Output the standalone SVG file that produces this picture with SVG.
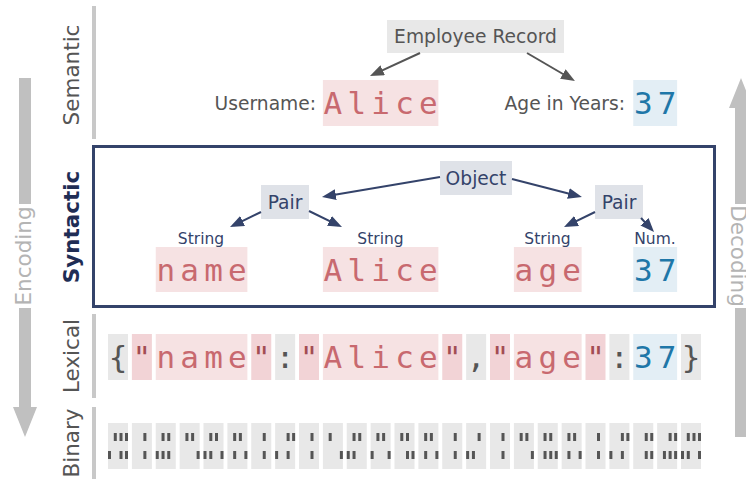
<svg xmlns="http://www.w3.org/2000/svg" width="746" height="479" viewBox="0 0 746 479">
<defs>
<style>
text{font-family:"DejaVu Sans","Liberation Sans",sans-serif}
.layer{font-size:21.5px;fill:#555;text-anchor:middle}
.layer-on{font-weight:bold;fill:#1f2d55}
.dir{font-size:21.5px;fill:#b4b4b4;text-anchor:middle}
.rail{fill:#c8c8c8}
.flow{fill:#c0c0c0}
.sem{font-size:18.67px;fill:#555}
.node{font-size:18.67px;fill:#34436a;text-anchor:middle}
.kind{font-size:15.5px;fill:#34436a;text-anchor:middle}
.tok{font-family:"DejaVu Sans Mono","Liberation Mono",monospace;font-size:31px;text-anchor:middle}
.str{fill:#c8696f}
.num{fill:#1f77a8}
.punc{fill:#555}
.quo{fill:#a34d53}
.bg-str{fill:#f6e2e3}
.bg-quo{fill:#f2d3d6}
.bg-num{fill:#e3eef5}
.bg-punc{fill:#e8e8e8}
.bg-node{fill:#dfe2e8}
.cell{fill:#e8e8e8}
.bit{fill:#555}
.edge-sem{stroke:#555;stroke-width:2;fill:none;marker-end:url(#head-sem)}
.edge-syn{stroke:#34436a;stroke-width:2;fill:none;marker-end:url(#head-syn)}
</style>
<marker id="head-sem" markerUnits="userSpaceOnUse" markerWidth="14" markerHeight="11" refX="10" refY="5.5" orient="auto"><path d="M0,0 L14,5.5 L0,11 z" fill="#555"/></marker>
<marker id="head-syn" markerUnits="userSpaceOnUse" markerWidth="14" markerHeight="11" refX="10" refY="5.5" orient="auto"><path d="M0,0 L14,5.5 L0,11 z" fill="#34436a"/></marker>
<!-- one cell per byte: high nibble on top row, low nibble below -->
<g id="byte-7B"><rect class="cell" width="20" height="46"/><path class="bit" d="M5.8 10h3v8h-3zM11.5 10h3v8h-3zM17 10h3v8h-3zM0 28h3v8h-3zM11.5 28h3v8h-3zM17 28h3v8h-3z"/></g>
<g id="byte-22"><rect class="cell" width="20" height="46"/><path class="bit" d="M11.5 10h3v8h-3zM11.5 28h3v8h-3z"/></g>
<g id="byte-6E"><rect class="cell" width="20" height="46"/><path class="bit" d="M5.8 10h3v8h-3zM11.5 10h3v8h-3zM0 28h3v8h-3zM5.8 28h3v8h-3zM11.5 28h3v8h-3z"/></g>
<g id="byte-61"><rect class="cell" width="20" height="46"/><path class="bit" d="M5.8 10h3v8h-3zM11.5 10h3v8h-3zM17 28h3v8h-3z"/></g>
<g id="byte-6D"><rect class="cell" width="20" height="46"/><path class="bit" d="M5.8 10h3v8h-3zM11.5 10h3v8h-3zM0 28h3v8h-3zM5.8 28h3v8h-3zM17 28h3v8h-3z"/></g>
<g id="byte-65"><rect class="cell" width="20" height="46"/><path class="bit" d="M5.8 10h3v8h-3zM11.5 10h3v8h-3zM5.8 28h3v8h-3zM17 28h3v8h-3z"/></g>
<g id="byte-3A"><rect class="cell" width="20" height="46"/><path class="bit" d="M11.5 10h3v8h-3zM17 10h3v8h-3zM0 28h3v8h-3zM11.5 28h3v8h-3z"/></g>
<g id="byte-41"><rect class="cell" width="20" height="46"/><path class="bit" d="M5.8 10h3v8h-3zM17 28h3v8h-3z"/></g>
<g id="byte-6C"><rect class="cell" width="20" height="46"/><path class="bit" d="M5.8 10h3v8h-3zM11.5 10h3v8h-3zM0 28h3v8h-3zM5.8 28h3v8h-3z"/></g>
<g id="byte-69"><rect class="cell" width="20" height="46"/><path class="bit" d="M5.8 10h3v8h-3zM11.5 10h3v8h-3zM0 28h3v8h-3zM17 28h3v8h-3z"/></g>
<g id="byte-63"><rect class="cell" width="20" height="46"/><path class="bit" d="M5.8 10h3v8h-3zM11.5 10h3v8h-3zM11.5 28h3v8h-3zM17 28h3v8h-3z"/></g>
<g id="byte-2C"><rect class="cell" width="20" height="46"/><path class="bit" d="M11.5 10h3v8h-3zM0 28h3v8h-3zM5.8 28h3v8h-3z"/></g>
<g id="byte-67"><rect class="cell" width="20" height="46"/><path class="bit" d="M5.8 10h3v8h-3zM11.5 10h3v8h-3zM5.8 28h3v8h-3zM11.5 28h3v8h-3zM17 28h3v8h-3z"/></g>
<g id="byte-33"><rect class="cell" width="20" height="46"/><path class="bit" d="M11.5 10h3v8h-3zM17 10h3v8h-3zM11.5 28h3v8h-3zM17 28h3v8h-3z"/></g>
<g id="byte-37"><rect class="cell" width="20" height="46"/><path class="bit" d="M11.5 10h3v8h-3zM17 10h3v8h-3zM5.8 28h3v8h-3zM11.5 28h3v8h-3zM17 28h3v8h-3z"/></g>
<g id="byte-7D"><rect class="cell" width="20" height="46"/><path class="bit" d="M5.8 10h3v8h-3zM11.5 10h3v8h-3zM17 10h3v8h-3zM0 28h3v8h-3zM5.8 28h3v8h-3zM17 28h3v8h-3z"/></g>
</defs>

<rect width="746" height="479" fill="#fff"/>

<!-- direction arrows -->
<g id="encoding">
<path class="flow" d="M19,78 H31 V407 H37 L25,437 L13,407 H19 Z"/>
<rect x="11" y="204" width="28" height="104" fill="#fff"/>
<text class="dir" transform="translate(31,256) rotate(-90)">Encoding</text>
</g>
<g id="decoding">
<path class="flow" d="M735,437 H747 V108 H753 L741,78 L729,108 H735 Z"/>
<rect x="725" y="204" width="21" height="104" fill="#fff"/>
<text class="dir" transform="translate(731,256) rotate(90)">Decoding</text>
</g>

<!-- layer names and rails -->
<g id="layers">
<rect class="rail" x="92" y="6" width="4" height="133"/>
<rect class="rail" x="92" y="314" width="4" height="84"/>
<rect class="rail" x="92" y="407" width="4" height="72"/>
<text class="layer" transform="translate(79,75) rotate(-90)">Semantic</text>
<text class="layer layer-on" transform="translate(79,227) rotate(-90)">Syntactic</text>
<text class="layer" transform="translate(79,356) rotate(-90)">Lexical</text>
<text class="layer" transform="translate(79,443) rotate(-90)">Binary</text>
</g>

<!-- semantic layer -->
<g id="record">
<rect class="bg-punc" x="387" y="20" width="177" height="33"/>
<text class="sem" x="475.5" y="43.3" text-anchor="middle">Employee Record</text>
</g>
<g id="username">
<text class="sem" x="316" y="110" text-anchor="end">Username:</text>
<rect class="bg-str" x="322.88" y="80" width="115.5" height="46"/>
<text class="tok str" x="332.88 356.75 380.63 404.5 428.38" y="113.5">Alice</text>
</g>
<g id="age">
<text class="sem" x="625" y="110" text-anchor="end">Age in Years:</text>
<rect class="bg-num" x="633.25" y="80" width="43.88" height="46"/>
<text class="tok num" x="643.25 667.13" y="113.5">37</text>
</g>

<!-- syntactic layer -->
<rect id="syntax-frame" x="93.5" y="146.5" width="621" height="160" fill="none" stroke="#34436a" stroke-width="3"/>
<g id="object">
<rect class="bg-node" x="440" y="161" width="72" height="34"/>
<text class="node" x="476" y="184.8">Object</text>
</g>
<g id="pair-name">
<rect class="bg-node" x="261" y="185" width="48" height="34"/>
<text class="node" x="285" y="208.8">Pair</text>
</g>
<g id="pair-age">
<rect class="bg-node" x="595" y="185" width="48" height="34"/>
<text class="node" x="619" y="208.8">Pair</text>
</g>
<g id="key-name">
<text class="kind" x="201" y="244">String</text>
<rect class="bg-str" x="155.75" y="247" width="91.63" height="45"/>
<text class="tok str" x="165.75 189.63 213.5 237.38" y="280.5">name</text>
</g>
<g id="value-name">
<text class="kind" x="380.5" y="244">String</text>
<rect class="bg-str" x="322.88" y="247" width="115.5" height="45"/>
<text class="tok str" x="332.88 356.75 380.63 404.5 428.38" y="280.5">Alice</text>
</g>
<g id="key-age">
<text class="kind" x="547.5" y="244">String</text>
<rect class="bg-str" x="513.88" y="247" width="67.75" height="45"/>
<text class="tok str" x="523.88 547.75 571.63" y="280.5">age</text>
</g>
<g id="value-age">
<text class="kind" x="655" y="244">Num.</text>
<rect class="bg-num" x="633.25" y="247" width="43.88" height="45"/>
<text class="tok num" x="643.25 667.13" y="280.5">37</text>
</g>

<!-- lexical layer: one slot per character -->
<g id="tokens">
<rect class="bg-punc" x="108" y="334" width="20" height="46"/>
<rect class="bg-quo" x="131.88" y="334" width="20" height="46"/>
<rect class="bg-str" x="155.75" y="334" width="91.63" height="46"/>
<rect class="bg-quo" x="251.25" y="334" width="20" height="46"/>
<rect class="bg-punc" x="275.13" y="334" width="20" height="46"/>
<rect class="bg-quo" x="299" y="334" width="20" height="46"/>
<rect class="bg-str" x="322.88" y="334" width="115.5" height="46"/>
<rect class="bg-quo" x="442.25" y="334" width="20" height="46"/>
<rect class="bg-punc" x="466.13" y="334" width="20" height="46"/>
<rect class="bg-quo" x="490" y="334" width="20" height="46"/>
<rect class="bg-str" x="513.88" y="334" width="67.75" height="46"/>
<rect class="bg-quo" x="585.5" y="334" width="20" height="46"/>
<rect class="bg-punc" x="609.38" y="334" width="20" height="46"/>
<rect class="bg-num" x="633.25" y="334" width="43.88" height="46"/>
<rect class="bg-punc" x="681" y="334" width="20" height="46"/>
<text class="tok" y="367.5"><tspan class="punc" x="118">{</tspan><tspan class="quo" x="141.88">"</tspan><tspan class="str" x="165.75 189.63 213.5 237.38">name</tspan><tspan class="quo" x="261.25">"</tspan><tspan class="punc" x="285.13">:</tspan><tspan class="quo" x="309">"</tspan><tspan class="str" x="332.88 356.75 380.63 404.5 428.38">Alice</tspan><tspan class="quo" x="452.25">"</tspan><tspan class="punc" x="476.13">,</tspan><tspan class="quo" x="500">"</tspan><tspan class="str" x="523.88 547.75 571.63">age</tspan><tspan class="quo" x="595.5">"</tspan><tspan class="punc" x="619.38">:</tspan><tspan class="num" x="643.25 667.13">37</tspan><tspan class="punc" x="691">}</tspan></text>
</g>

<!-- binary layer: ASCII bytes of the lexical row -->
<g id="bytes">
<use href="#byte-7B" x="108" y="423"/>
<use href="#byte-22" x="131.88" y="423"/>
<use href="#byte-6E" x="155.75" y="423"/>
<use href="#byte-61" x="179.63" y="423"/>
<use href="#byte-6D" x="203.5" y="423"/>
<use href="#byte-65" x="227.38" y="423"/>
<use href="#byte-22" x="251.25" y="423"/>
<use href="#byte-3A" x="275.13" y="423"/>
<use href="#byte-22" x="299" y="423"/>
<use href="#byte-41" x="322.88" y="423"/>
<use href="#byte-6C" x="346.75" y="423"/>
<use href="#byte-69" x="370.63" y="423"/>
<use href="#byte-63" x="394.5" y="423"/>
<use href="#byte-65" x="418.38" y="423"/>
<use href="#byte-22" x="442.25" y="423"/>
<use href="#byte-2C" x="466.13" y="423"/>
<use href="#byte-22" x="490" y="423"/>
<use href="#byte-61" x="513.88" y="423"/>
<use href="#byte-67" x="537.75" y="423"/>
<use href="#byte-65" x="561.63" y="423"/>
<use href="#byte-22" x="585.5" y="423"/>
<use href="#byte-3A" x="609.38" y="423"/>
<use href="#byte-33" x="633.25" y="423"/>
<use href="#byte-37" x="657.13" y="423"/>
<use href="#byte-7D" x="681" y="423"/>
</g>

<!-- connectors -->
<g id="connectors">
<line class="edge-sem" x1="420" y1="53" x2="373.6" y2="74.3"/>
<line class="edge-sem" x1="527" y1="53" x2="571.5" y2="79"/>
<line class="edge-syn" x1="440" y1="177" x2="325.9" y2="196.3"/>
<line class="edge-syn" x1="512" y1="179" x2="578.1" y2="196"/>
<line class="edge-syn" x1="261" y1="212" x2="233.6" y2="225.3"/>
<line class="edge-syn" x1="309" y1="211" x2="338.4" y2="225.3"/>
<line class="edge-syn" x1="595" y1="212" x2="567.6" y2="225.3"/>
<line class="edge-syn" x1="641" y1="218" x2="651.3" y2="229.1"/>
</g>
</svg>
